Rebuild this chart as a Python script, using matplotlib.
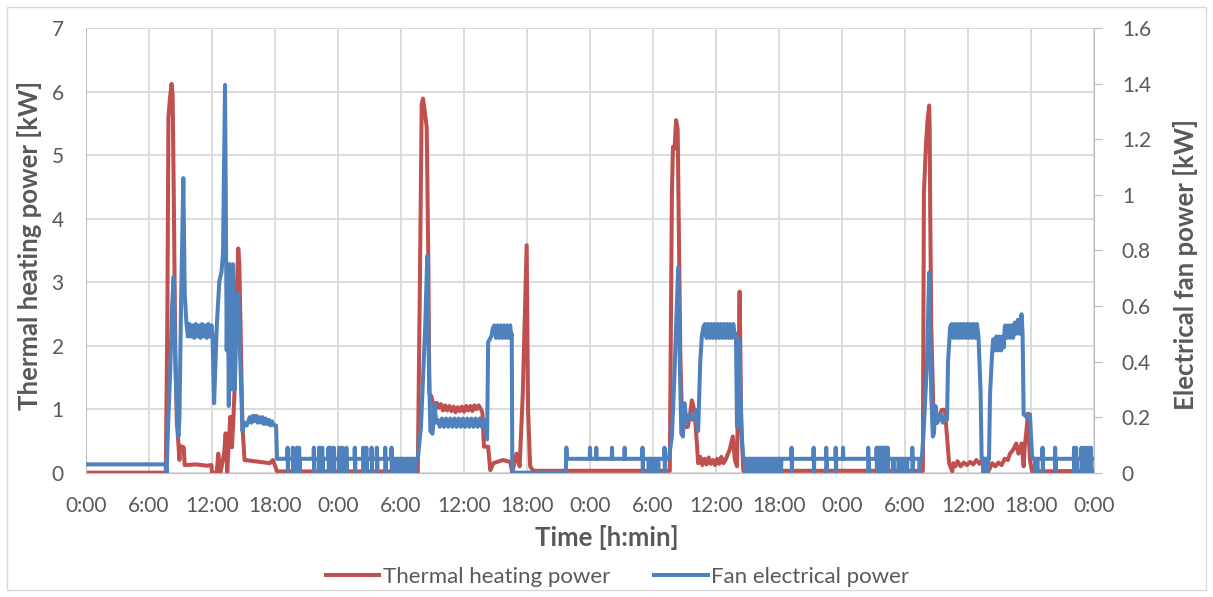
import matplotlib.pyplot as plt
from matplotlib.patches import Rectangle

# time in hours from start of day 1
heat_pts = [
    (0, 0), (7.6, 0), (7.75, 2.5), (7.85, 5.6), (8.0, 5.9), (8.15, 6.12), (8.25, 5.95),
    (8.35, 4.5), (8.5, 2.0), (8.65, 0.8), (8.8, 0.46), (8.9, 0.2), (8.95, 0.42), (9.3, 0.4),
    (9.4, 0.12), (10.5, 0.13), (11.5, 0.11), (11.95, 0.12), (12.0, 0), (12.45, 0), (12.6, 0.3),
    (12.8, 0), (13.15, 0.3), (13.3, 0.62), (13.45, 0), (13.6, 0.5), (13.75, 0.88), (13.9, 0.4),
    (14.05, 0.9), (14.2, 1.5), (14.35, 2.8), (14.5, 3.53), (14.6, 3.3), (14.75, 2.0),
    (14.9, 0.72), (15.1, 0.2), (16.5, 0.17), (17.5, 0.15), (17.8, 0.2), (18.2, 0.02),
    # day 2
    (31.6, 0.02), (31.8, 3.0), (31.97, 5.8), (32.1, 5.89), (32.25, 5.7), (32.45, 5.44),
    (32.6, 3.34), (32.7, 1.25), (32.9, 1.2), (33.0, 1.12), (33.2, 1.0), (33.4, 1.1),
    (33.6, 1.02), (33.8, 1.08), (34.0, 0.98), (34.2, 1.06), (34.4, 0.98), (34.6, 1.05),
    (34.8, 0.97), (35.0, 1.04), (35.2, 0.95), (35.4, 1.03), (35.6, 0.97), (35.8, 1.04),
    (36.0, 0.96), (36.2, 1.05), (36.4, 0.98), (36.6, 1.05), (36.8, 0.97), (37.0, 1.06),
    (37.2, 1.0), (37.4, 1.06), (37.6, 1.0), (37.75, 0.95), (37.9, 0.41), (38.3, 0.41),
    (38.5, 0.04), (38.8, 0.15), (39.7, 0.2), (40.4, 0.17), (40.6, 0), (41.0, 0.3), (41.3, 0.1),
    (41.6, 1.25), (41.97, 3.58), (42.1, 1.0), (42.3, 0.1), (42.6, 0.03),
    # day 3
    (55.6, 0.03), (55.8, 4.39), (55.9, 5.13), (56.05, 5.1), (56.2, 5.55), (56.35, 5.4),
    (56.5, 3.34), (56.6, 1.88), (56.75, 0.93), (56.9, 0.72), (57.3, 0.72), (57.5, 0.88),
    (57.7, 1.14), (57.85, 1.04), (58.0, 0.88), (58.2, 0.41), (58.3, 0.15), (58.5, 0.25),
    (58.7, 0.12), (58.9, 0.22), (59.1, 0.13), (59.3, 0.24), (59.5, 0.14), (59.7, 0.2),
    (59.9, 0.12), (60.1, 0.22), (60.3, 0.14), (60.5, 0.25), (60.7, 0.15), (60.9, 0.2),
    (61.3, 0.36), (61.6, 0.57), (61.8, 0.2), (62.0, 0.1), (62.25, 2.85), (62.4, 0.8),
    (62.6, 0.03),
    # day 4
    (79.7, 0.03), (79.8, 4.39), (80.0, 5.18), (80.15, 5.55), (80.3, 5.78), (80.35, 5.44),
    (80.4, 4.13), (80.5, 2.3), (80.7, 0.99), (81.0, 0.78), (81.5, 0.99), (81.8, 0.99),
    (82.0, 0.57), (82.2, 0.15), (82.5, 0.02), (82.6, 0.15), (82.8, 0.1), (83.0, 0.18),
    (83.3, 0.1), (83.6, 0.16), (83.9, 0.12), (84.2, 0.17), (84.5, 0.13), (84.8, 0.2),
    (85.1, 0.14), (85.4, 0.22), (85.7, 0.12), (86.0, 0.04), (86.3, 0.15), (86.6, 0.1),
    (86.9, 0.16), (87.2, 0.12), (87.5, 0.22), (87.8, 0.2), (88.0, 0.3), (88.3, 0.36),
    (88.6, 0.46), (88.8, 0.3), (89.1, 0.46), (89.3, 0.1), (89.4, 0.4), (89.6, 0.72),
    (89.7, 0.93), (89.9, 0.2), (90.1, 0.02), (95.9, 0.03),
]

fan_pts = [
    (0, 0.03), (7.6, 0.03), (7.68, 0), (7.8, 0.15), (8.0, 0.345), (8.2, 0.6), (8.35, 0.705),
    (8.5, 0.4), (8.6, 0.285), (8.8, 0.13), (8.9, 0.2), (9.05, 0.6), (9.27, 1.06), (9.4, 0.645),
    (9.56, 0.54), (9.7, 0.49), (9.85, 0.535), (10.0, 0.49), (10.15, 0.53), (10.3, 0.485),
    (10.45, 0.535), (10.6, 0.49), (10.75, 0.53), (10.9, 0.485), (11.05, 0.535), (11.2, 0.49),
    (11.35, 0.53), (11.5, 0.485), (11.65, 0.535), (11.8, 0.49), (11.95, 0.53), (12.05, 0.49),
    (12.2, 0.25), (12.45, 0.525), (12.7, 0.69), (12.9, 0.72), (13.05, 0.79), (13.24, 1.395),
    (13.3, 1.065), (13.4, 0.44), (13.5, 0.75), (13.6, 0.24), (13.7, 0.75), (13.85, 0.3),
    (14.0, 0.75), (14.15, 0.3), (14.3, 0.57), (14.5, 0.645), (14.7, 0.4), (14.9, 0.15),
    (15.1, 0.18), (15.3, 0.17), (15.6, 0.2), (15.75, 0.18), (15.9, 0.205), (16.05, 0.185),
    (16.2, 0.205), (16.35, 0.18), (16.5, 0.2), (16.65, 0.18), (16.8, 0.2), (16.95, 0.175),
    (17.1, 0.195), (17.25, 0.175), (17.4, 0.19), (17.55, 0.17), (17.7, 0.185), (17.9, 0.17),
    (18.1, 0.17), (18.2, 0.05),
    # day 2
    (31.6, 0.05), (31.9, 0.165), (32.3, 0.52), (32.5, 0.78), (32.65, 0.4), (32.8, 0.15),
    (33.0, 0.14), (33.2, 0.25), (33.35, 0.18), (33.5, 0.19), (33.7, 0.165), (33.9, 0.195),
    (34.1, 0.165), (34.3, 0.195), (34.5, 0.165), (34.7, 0.195), (34.9, 0.165), (35.1, 0.195),
    (35.3, 0.165), (35.5, 0.195), (35.7, 0.165), (35.9, 0.195), (36.1, 0.165), (36.3, 0.195),
    (36.5, 0.165), (36.7, 0.195), (36.9, 0.165), (37.1, 0.195), (37.3, 0.165), (37.5, 0.195),
    (37.7, 0.165), (37.9, 0.19), (38.05, 0.16), (38.2, 0.12), (38.3, 0.47), (38.6, 0.49),
    (38.75, 0.52), (38.9, 0.53), (39.05, 0.485), (39.2, 0.53), (39.35, 0.485), (39.5, 0.53),
    (39.65, 0.485), (39.8, 0.53), (39.95, 0.485), (40.1, 0.53), (40.25, 0.485), (40.4, 0.53),
    (40.5, 0.49), (40.55, 0.5), (40.6, 0), (45.7, 0), (45.75, 0.05),
    # day 3
    (55.5, 0.05), (55.8, 0.13), (56.0, 0.31), (56.2, 0.53), (56.4, 0.74), (56.55, 0.4),
    (56.7, 0.14), (56.85, 0.13), (57.0, 0.25), (57.2, 0.18), (57.5, 0.21), (57.8, 0.19),
    (58.1, 0.225), (58.3, 0.15), (58.5, 0.4), (58.65, 0.49), (58.8, 0.525), (58.95, 0.535),
    (59.1, 0.485), (59.25, 0.535), (59.4, 0.485), (59.55, 0.535), (59.7, 0.485), (59.85, 0.535),
    (60.0, 0.485), (60.15, 0.535), (60.3, 0.485), (60.45, 0.535), (60.6, 0.485), (60.75, 0.535),
    (60.9, 0.485), (61.05, 0.535), (61.2, 0.485), (61.35, 0.535), (61.5, 0.485), (61.65, 0.535),
    (61.8, 0.485), (61.9, 0.5), (62.0, 0.165), (62.2, 0.48), (62.45, 0.13), (62.6, 0.05),
    # day 4
    (79.6, 0.05), (79.75, 0.13), (80.1, 0.4), (80.3, 0.72), (80.5, 0.285), (80.65, 0.13),
    (80.75, 0.14), (80.9, 0.24), (81.1, 0.18), (81.4, 0.21), (81.6, 0.18), (81.8, 0.2),
    (82.0, 0.19), (82.1, 0.4), (82.3, 0.525), (82.45, 0.535), (82.6, 0.485), (82.75, 0.535),
    (82.9, 0.485), (83.05, 0.535), (83.2, 0.485), (83.35, 0.535), (83.5, 0.485), (83.65, 0.535),
    (83.8, 0.485), (83.95, 0.535), (84.1, 0.485), (84.25, 0.535), (84.4, 0.485), (84.55, 0.535),
    (84.7, 0.485), (84.85, 0.535), (85.0, 0.49), (85.2, 0.29), (85.3, 0.05), (86.0, 0.05),
    (86.1, 0.285), (86.3, 0.43), (86.4, 0.48), (86.55, 0.44), (86.7, 0.49), (86.85, 0.44),
    (87.0, 0.49), (87.15, 0.44), (87.3, 0.49), (87.4, 0.45), (87.5, 0.525), (87.55, 0.53),
    (87.7, 0.485), (87.85, 0.53), (88.0, 0.485), (88.15, 0.53), (88.3, 0.485), (88.45, 0.54),
    (88.6, 0.5), (88.75, 0.55), (88.9, 0.5), (89.1, 0.57), (89.2, 0.5), (89.3, 0.21),
    (89.6, 0.2), (89.9, 0.21), (90.1, 0.06), (90.2, 0.05), (95.9, 0.05),
]

# fan on/off flicker at night: spikes up to 0.09 kW and/or down to 0
fan_flick_both = [19.2, 19.7, 20.1, 20.3, 21.7, 22.2, 22.5, 23.1, 23.3, 23.6, 24.1, 24.4,
                  24.8, 25.6, 26.4, 26.7, 27.2, 27.7, 28.5, 29.1, 53.0, 55.1, 67.2, 69.3,
                  70.5, 71.4, 74.5, 75.3, 75.45, 75.6, 75.75, 75.9, 76.05, 76.2, 76.35,
                  78.7, 91.1, 92.3, 94.1, 94.3, 94.8, 95.1, 95.4, 95.7]
fan_flick_up = [45.75, 48.0, 48.6, 50.1, 51.3, 72.1]
fan_flick_down = [29.3, 29.6, 29.9, 30.2, 30.6, 31.0, 31.3, 53.6, 53.9, 54.2, 54.5,
                  62.8, 63.0, 63.2, 63.35, 63.5, 63.7, 63.9, 64.05, 64.2, 64.4, 64.6,
                  64.8, 65.0, 65.2, 65.4, 65.6, 65.8, 66.0, 66.2, 76.9, 77.4, 77.8, 78.2,
                  79.4, 85.45, 85.6, 85.75, 85.9, 90.4, 90.6]
fan_base = 0.05
fan_hi = 0.09

x_ticks = list(range(0, 97, 6))
x_labels = ["0:00", "6:00", "12:00", "18:00"] * 4 + ["0:00"]

red = "#C0504D"
blue = "#4F81BD"
grey_txt = "#595959"
grid_c = "#D9D9D9"

plt.rcParams["font.family"] = ["Lato", "DejaVu Sans"]

# merge flicker pulses into the fan series
fan_all = list(fan_pts)
for t in fan_flick_both:
    fan_all += [(t - 0.03, fan_base), (t, fan_hi), (t + 0.03, 0), (t + 0.06, fan_base)]
for t in fan_flick_up:
    fan_all += [(t - 0.03, fan_base), (t, fan_hi), (t + 0.03, fan_base)]
for t in fan_flick_down:
    fan_all += [(t - 0.03, fan_base), (t, 0), (t + 0.03, fan_base)]
fan_all.sort(key=lambda p: p[0])

fig = plt.figure(figsize=(12.13, 5.97), dpi=100)
ax = fig.add_axes([86 / 1213, 1 - 472.7 / 597, (1094 - 86) / 1213, (472.7 - 28) / 597])
ax2 = ax.twinx()

ax.plot([p[0] for p in heat_pts], [p[1] for p in heat_pts], color=red, lw=2.9,
        solid_joinstyle="round", label="Thermal heating power")
ax2.plot([p[0] for p in fan_all], [p[1] for p in fan_all], color=blue, lw=2.9,
         solid_joinstyle="round", label="Fan electrical power")

ax.set_xlim(0, 96)
ax.set_ylim(0, 7)
ax2.set_ylim(0, 1.6)
ax.set_xticks(x_ticks)
ax.set_xticklabels(x_labels)
ax.set_yticks(range(0, 8))
ax2.set_yticks([0, 0.2, 0.4, 0.6, 0.8, 1, 1.2, 1.4, 1.6])
ax2.set_yticklabels(["0", "0.2", "0.4", "0.6", "0.8", "1", "1.2", "1.4", "1.6"])

ax.grid(True, color=grid_c, lw=1.3)
ax.set_axisbelow(True)
for a in (ax, ax2):
    for s in a.spines.values():
        s.set_visible(False)
ax.spines["left"].set_visible(True)
ax.spines["left"].set_color("#BFBFBF")
ax.spines["bottom"].set_visible(True)
ax.spines["bottom"].set_color("#BFBFBF")
ax2.spines["right"].set_visible(True)
ax2.spines["right"].set_color("#BFBFBF")

ax.tick_params(axis="both", length=0, labelsize=15, colors=grey_txt)
ax.tick_params(axis="y", pad=16)
ax.tick_params(axis="x", pad=17)
ax2.tick_params(axis="y", length=6, color="#BFBFBF", labelsize=15, labelcolor=grey_txt, pad=14)

ax.set_xlabel("Time [h:min]", fontsize=18.5, fontweight="bold", color=grey_txt, va="center")
ax.xaxis.set_label_coords((607 - 86) / 1008, (472.7 - 537) / 444.7)
ax.set_ylabel("Thermal heating power [kW]", fontsize=18.5, fontweight="bold", color=grey_txt,
              va="center")
ax.yaxis.set_label_coords((30 - 86) / 1008, (472.7 - 245) / 444.7)
ax2.set_ylabel("Electrical fan power [kW]", fontsize=18.5, fontweight="bold", color=grey_txt,
               va="center")
ax2.yaxis.set_label_coords((1185 - 86) / 1008, (472.7 - 265) / 444.7)

h1, l1 = ax.get_legend_handles_labels()
h2, l2 = ax2.get_legend_handles_labels()
fig.legend(h1 + h2, l1 + l2, loc="center", bbox_to_anchor=(617.5 / 1213, 1 - 577 / 597),
           ncol=2, frameon=False, fontsize=16, labelcolor=grey_txt, handlelength=2.4,
           handletextpad=0.15, columnspacing=2.0)

fig.add_artist(Rectangle((7 / 1213, 7 / 597), 1 - 14 / 1213, 1 - 14 / 597,
                         transform=fig.transFigure, fill=False, ec="#D9D9D9", lw=1))

fig.savefig("out.png", dpi=100)
